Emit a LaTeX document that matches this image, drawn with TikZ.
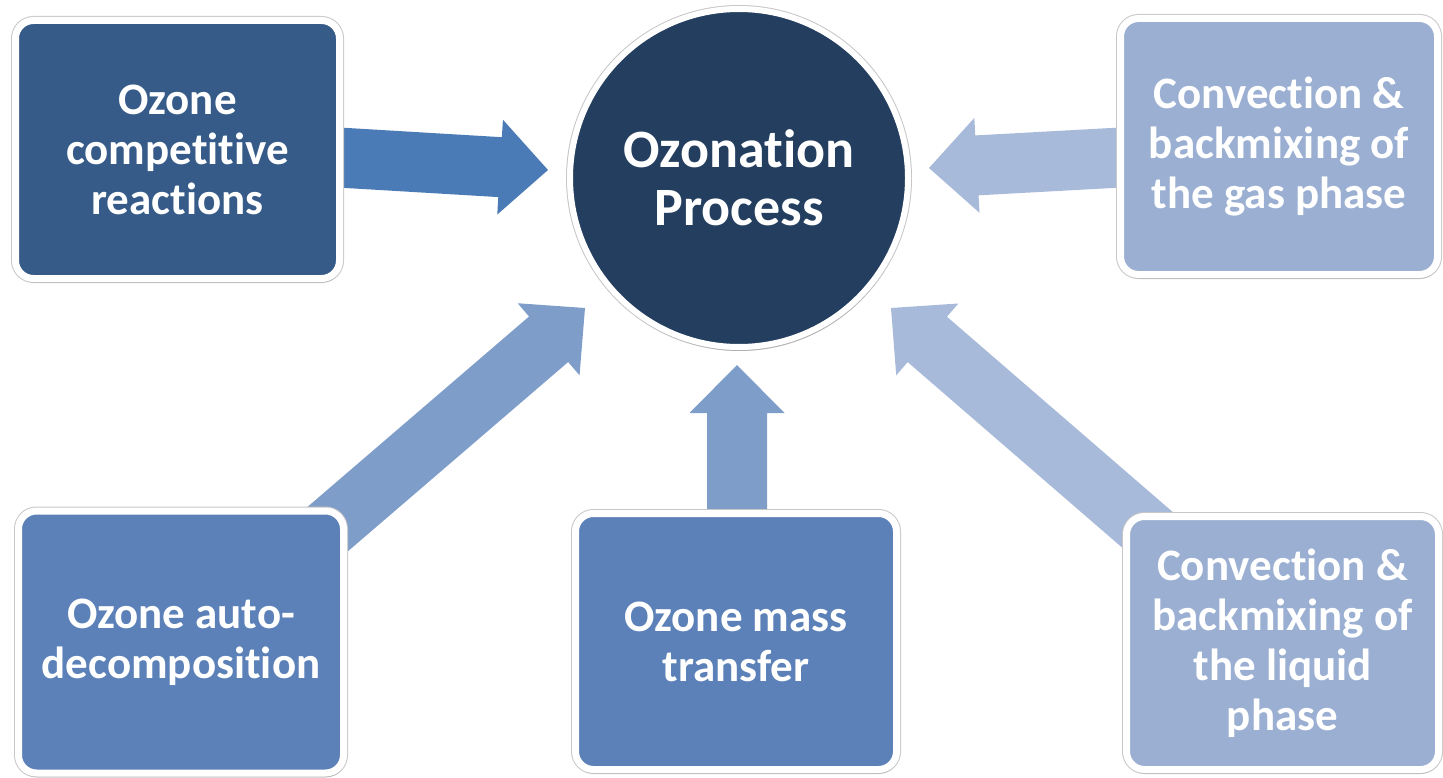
\documentclass[tikz,border=0pt]{standalone}
\usepackage{fontspec}
\setmainfont{Carlito}[Ligatures=NoCommon]
\usetikzlibrary{calc,shadows}
\definecolor{cdark}{HTML}{365B89}
\definecolor{cmid}{HTML}{5B81B8}
\definecolor{clight}{HTML}{9AAFD2}
\definecolor{ccirc}{HTML}{243E5F}
\definecolor{adark}{HTML}{4A7BB6}
\definecolor{amid}{HTML}{7E9DC9}
\definecolor{alight}{HTML}{A8BAD9}
\newcommand{\blockarrow}[3]{%
  \path ($(#2)!48pt!(#1)$) coordinate (ab);
  \fill[#3] ($(#1)!30pt!90:(#2)$) -- ($(ab)!30pt!-90:(#1)$) -- ($(ab)!47.5pt!-90:(#1)$) -- (#2)
     -- ($(ab)!47.5pt!90:(#1)$) -- ($(ab)!30pt!90:(#1)$) -- ($(#1)!30pt!-90:(#2)$) -- cycle;}
\tikzset{
  box/.style={rectangle, rounded corners=18pt, draw=white, line width=7pt,
    text=white, font=\bfseries\fontsize{45}{50}\selectfont, align=center,
    preaction={draw=black!22, line width=9pt},
    drop shadow={opacity=0.3, shadow xshift=1pt, shadow yshift=-4pt}},
  circ/.style={circle, draw=white, line width=6pt, fill=ccirc, minimum size=338pt,
    text=white, font=\bfseries\fontsize{54}{58}\selectfont, align=center,
    preaction={draw=black!22, line width=8pt},
    drop shadow={opacity=0.3, shadow xshift=1pt, shadow yshift=-4pt}}
}
\begin{document}
\begin{tikzpicture}[x=1pt,y=-1pt]
\useasboundingbox (0,0) rectangle (1443,778);
% arrow endpoints
\coordinate (s1) at (330,157);
\coordinate (t1) at (548,170);
\coordinate (s2) at (1130,157);
\coordinate (t2) at (929,168);
\coordinate (s3) at (315,540);
\coordinate (t3) at (585,308);
\coordinate (s4) at (737,530);
\coordinate (t4) at (737,365);
\coordinate (s5) at (1165,545);
\coordinate (t5) at (891,308);
\blockarrow{s1}{t1}{adark}
\blockarrow{s2}{t2}{alight}
\blockarrow{s3}{t3}{amid}
\blockarrow{s4}{t4}{amid}
\blockarrow{s5}{t5}{alight}
% nodes
\node[box, fill=cdark, minimum width=324pt, minimum height=258pt] (b1) at (177.5,149.5) {Ozone\\competitive\\reactions};
\node[box, fill=clight, minimum width=317pt, minimum height=256pt] (b2) at (1279,146.5) {Convection \&\\backmixing of\\the gas phase};
\node[box, fill=cmid, minimum width=325pt, minimum height=262pt] (b3) at (181,642) {Ozone auto-\\decomposition};
\node[box, fill=cmid, minimum width=321pt, minimum height=256pt] (b4) at (736,641.5) {Ozone mass\\transfer};
\node[box, fill=clight, minimum width=312pt, minimum height=253pt] (b5) at (1282.5,643) {Convection \&\\backmixing of\\the liquid\\phase};
\node[circ] (c) at (739,178) {Ozonation\\Process};
\end{tikzpicture}
\end{document}
